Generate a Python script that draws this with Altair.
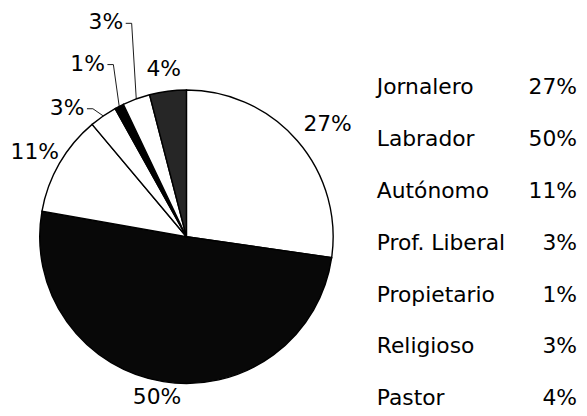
import altair as alt
import pandas as pd

# ---- data ----
categories = ["Jornalero", "Labrador", "Autónomo", "Prof. Liberal",
              "Propietario", "Religioso", "Pastor"]
values = [27, 50, 11, 3, 1, 3, 4]
pct_labels = ["27%", "50%", "11%", "3%", "1%", "3%", "4%"]

# ---- styling / label layout (not data) ----
fills = ["#ffffff", "#080808", "#ffffff", "#ffffff", "#000000", "#ffffff", "#262626"]
label_radius = [183, 163, 176, 178, 202, 232, 172]      # px from pie centre
label_shift = [2.0, 1.4, -0.4, -8.0, -2.3, -0.5, -0.4]  # degrees from slice middle
has_leader = [False, False, False, True, True, True, False]

FONT = "DejaVu Sans"
FS = 22
FW = "normal"
TDY = 1
CX, CY, R = 180, 229, 148

df = pd.DataFrame({
    "cat": categories,
    "value": values,
    "label": pct_labels,
    "idx": list(range(len(categories))),
    "lr": label_radius,
    "ls": label_shift,
    "leader": has_leader,
})

base = (
    alt.Chart(df)
    .transform_joinaggregate(total="sum(value)")
    .transform_window(cum="sum(value)", sort=[alt.SortField("idx")], frame=[None, 0])
    .transform_calculate(
        a0="(datum.cum - datum.value) / datum.total * 2 * PI",
        a1="datum.cum / datum.total * 2 * PI",
    )
    .transform_calculate(
        mid="(datum.a0 + datum.a1) / 2",
        la="(datum.a0 + datum.a1) / 2 + datum.ls * PI / 180",
    )
    .transform_calculate(
        lx=f"{CX} + datum.lr * sin(datum.la)",
        ly=f"{CY} - datum.lr * cos(datum.la)",
        ex=f"{CX} + {R} * sin(datum.mid)",
        ey=f"{CY} - {R} * cos(datum.mid)",
    )
    .transform_calculate(
        bx="datum.lx + 26",
        by="datum.ly + 2",
        tx="datum.lx + 20",
    )
)

arcs = base.mark_arc(outerRadius=R, stroke="black", strokeWidth=1.4).encode(
    theta=alt.Theta("a0:Q", scale=None),
    theta2="a1:Q",
    x=alt.value(CX),
    y=alt.value(CY),
    fill=alt.Fill("cat:N", scale=alt.Scale(domain=categories, range=fills), legend=None),
)

lead = base.transform_filter("datum.leader")
rule1 = lead.mark_rule(color="black", strokeWidth=0.9).encode(
    x=alt.X("ex:Q", scale=None, axis=None),
    y=alt.Y("ey:Q", scale=None, axis=None),
    x2="bx:Q",
    y2="by:Q",
)
rule2 = lead.mark_rule(color="black", strokeWidth=0.9).encode(
    x=alt.X("bx:Q", scale=None, axis=None),
    y=alt.Y("by:Q", scale=None, axis=None),
    x2="tx:Q",
    y2="by:Q",
)

texts = base.mark_text(font=FONT, fontSize=FS, fontWeight=FW, align="center",
                       baseline="middle", dy=TDY, color="black").encode(
    x=alt.X("lx:Q", scale=None, axis=None),
    y=alt.Y("ly:Q", scale=None, axis=None),
    text="label:N",
)

pie = alt.layer(arcs, rule1, rule2, texts).properties(width=356, height=400)

ypos = alt.Y("cat:N", sort=categories, axis=None,
             scale=alt.Scale(domain=categories, range=[77, 391], padding=0))
leg_names = alt.Chart(df).mark_text(font=FONT, fontSize=FS, fontWeight=FW, align="left",
                                    baseline="middle", dy=TDY, color="black").encode(
    x=alt.value(16), y=ypos, text="cat:N")
leg_vals = alt.Chart(df).mark_text(font=FONT, fontSize=FS, fontWeight=FW, align="right",
                                   baseline="middle", dy=TDY, color="black").encode(
    x=alt.value(218), y=ypos, text="label:N")
legend = alt.layer(leg_names, leg_vals).properties(width=220, height=400)

chart = (
    alt.hconcat(pie, legend, spacing=0)
    .properties(padding=0, background="white")
    .configure_view(stroke=None)
)

chart.save("out.html", embed_options={"renderer": "svg", "actions": False})
